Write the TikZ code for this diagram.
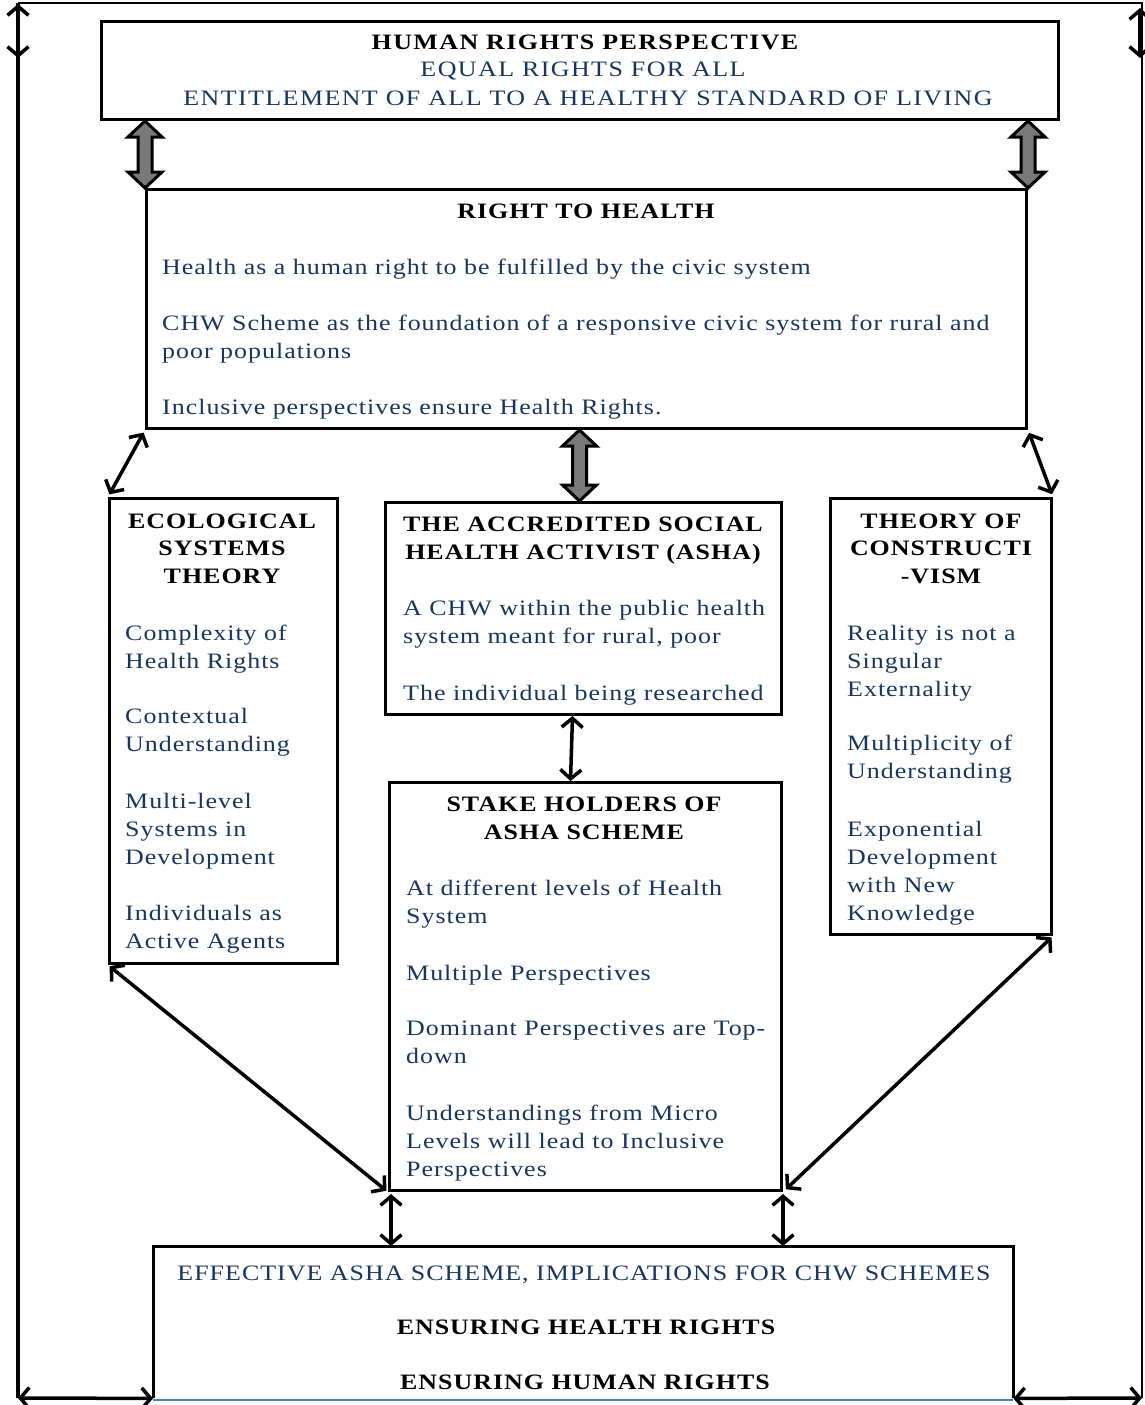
\documentclass[tikz,border=0pt]{standalone}
\usepackage{fontspec}
\setmainfont{Liberation Serif}[FakeStretch=1.18, LetterSpace=4.5]
\newfontfamily\widecaps{Liberation Serif}[FakeStretch=1.18, LetterSpace=6.5]
\usetikzlibrary{arrows.meta,calc}
\definecolor{navy}{RGB}{23,54,93}
\definecolor{edgeblue}{RGB}{79,129,189}

\tikzset{
  box/.style={draw=black, line width=3pt, anchor=north west, inner sep=0pt},
  % multi-line nodes are placed by the baseline of their last line
  ttl/.style={font=\fontsize{22}{27.5}\selectfont\bfseries, align=center, anchor=base, inner sep=0pt},
  itm/.style={font=\fontsize{22}{28}\selectfont, text=navy, align=left, anchor=base west, inner sep=0pt},
  ctr/.style={font=\fontsize{22}{28}\selectfont, text=navy, anchor=base, inner sep=0pt},
  link/.style={line width=3.5pt, {Straight Barb[length=9pt,width=21pt]}-{Straight Barb[length=9pt,width=21pt]}},
  fat/.style={draw=black, fill=gray!95!black, line width=3pt, line join=miter},
}

% vertical block arrow with two heads, from #1 (top) to #2 (bottom)
\newcommand\fatarrow[2]{%
  \path[fat] let \p1=(#1), \p2=(#2) in
    (\x1,\y1) -- (\x1+17pt,\y1-16pt) -- (\x1+7pt,\y1-16pt) --
    (\x1+7pt,\y2+16pt) -- (\x1+17pt,\y2+16pt) -- (\x1,\y2) --
    (\x1-17pt,\y2+16pt) -- (\x1-7pt,\y2+16pt) --
    (\x1-7pt,\y1-16pt) -- (\x1-17pt,\y1-16pt) -- cycle;}

\begin{document}
\begin{tikzpicture}[x=1pt,y=-1pt]
\useasboundingbox (0,0) rectangle (1145,1405);
\clip (0,0) rectangle (1145,1405);

% outer frame
\coordinate (ftl) at (18,3);
\coordinate (ftr) at (1142,3);
\coordinate (fbl) at (18,1398);
\coordinate (fbr) at (1142,1398);
\draw[line width=3.5pt] (fbl) -- (ftl);
\draw[line width=2.5pt] (ftl) -- (ftr) -- (fbr);

% boxes
\node[box, minimum width=957pt, minimum height=98pt] (hr) at (100,20) {};
\node[box, minimum width=880pt, minimum height=239pt] (rth) at (145,188) {};
\node[box, minimum width=228pt, minimum height=465pt] (eco) at (108,497) {};
\node[box, minimum width=396pt, minimum height=212pt] (asha) at (384,501) {};
\node[box, minimum width=392pt, minimum height=408pt] (stake) at (388,781) {};
\node[box, minimum width=221pt, minimum height=436pt] (con) at (829,497) {};
\node[anchor=north west, inner sep=0pt, minimum width=860pt, minimum height=152pt] (eff) at (153,1246) {};
\draw[line width=3pt] (eff.south west) -- (eff.north west) -- (eff.north east) -- (eff.south east);
\draw[edgeblue, line width=2pt] ($(eff.south west)+(0,2)$) -- ($(eff.south east)+(0,2)$);

% frame arrows
\coordinate (la) at (18,58);
\coordinate (ra) at (1140,58);
\draw[link] ($(ftl)+(0,1)$) -- (la);
\draw[link] (1140,8) -- (ra);
\draw[link] (fbl) -- (eff.south west);
\draw[link] (eff.south east) -- (fbr);

% block arrows
\fatarrow{hr.south -| rth.north west}{rth.north west}
\fatarrow{hr.south -| rth.north east}{rth.north east}
\fatarrow{$(rth.south)+(-7,0)$}{$(asha.north)+(-4,0)$}

% thin connectors
\draw[link, shorten <=3pt, shorten >=3pt] (rth.south west) -- (eco.north west);
\draw[link, shorten <=3pt, shorten >=3pt] (rth.south east) -- (con.north east);
\draw[link] ($(asha.south)+(-11,0)$) -- ($(stake.north)+(-15,0)$);
\draw[link, shorten <=2pt, shorten >=2pt] (eco.south west) -- (stake.south west);
\draw[link, shorten <=2pt, shorten >=4pt] (con.south east) -- (stake.south east);
\draw[link, shorten <=2pt] ($(stake.south west)+(3,0)$) -- ($(stake.south west |- eff.north)+(3,0)$);
\draw[link, shorten <=2pt] (stake.south east) -- (stake.south east |- eff.north);

% texts: human rights perspective
\node[ttl, font=\fontsize{22}{27.5}\selectfont\widecaps\bfseries] (hrT) at (585,49) {HUMAN RIGHTS PERSPECTIVE};
\node[ctr, font=\fontsize{22}{28}\selectfont\widecaps] (hrA) at (583,77) {EQUAL RIGHTS FOR ALL};
\node[ctr, font=\fontsize{22}{28}\selectfont\widecaps] (hrB) at (588,105) {ENTITLEMENT OF ALL TO A HEALTHY STANDARD OF LIVING};

% right to health
\node[ttl] (rthT) at (586,218) {RIGHT TO HEALTH};
\node[itm] (rth1) at (162,274) {Health as a human right to be fulfilled by the civic system};
\node[itm] (rth2) at (162,358) {CHW Scheme as the foundation of a responsive civic system for rural and\\poor populations};
\node[itm] (rth3) at (162,414) {Inclusive perspectives ensure Health Rights.};

% ecological systems theory
\node[ttl] (ecoT) at (222,583) {ECOLOGICAL\\SYSTEMS\\THEORY};
\node[itm] (eco1) at (125,668) {Complexity of\\Health Rights};
\node[itm] (eco2) at (125,751) {Contextual\\Understanding};
\node[itm] (eco3) at (125,864) {Multi-level\\Systems in\\Development};
\node[itm] (eco4) at (125,948) {Individuals as\\Active Agents};

% ASHA
\node[ttl] (ashaT) at (583,559) {THE ACCREDITED SOCIAL\\HEALTH ACTIVIST (ASHA)};
\node[itm] (asha1) at (403,643) {A CHW within the public health\\system meant for rural, poor};
\node[itm] (asha2) at (403,700) {The individual being researched};

% stakeholders
\node[ttl] (stakeT) at (584,839) {STAKE HOLDERS OF\\ASHA SCHEME};
\node[itm] (stake1) at (406,923) {At different levels of Health\\System};
\node[itm] (stake2) at (406,980) {Multiple Perspectives};
\node[itm] (stake3) at (406,1063) {Dominant Perspectives are Top-\\down};
\node[itm] (stake4) at (406,1176) {Understandings from Micro\\Levels will lead to Inclusive\\Perspectives};

% constructivism
\node[ttl] (conT) at (941,583) {THEORY OF\\CONSTRUCTI\\-VISM};
\node[itm] (con1) at (847,696) {Reality is not a\\Singular\\Externality};
\node[itm] (con2) at (847,778) {Multiplicity of\\Understanding};
\node[itm] (con3) at (847,920) {Exponential\\Development\\with New\\Knowledge};

% outcome
\node[ctr] (effA) at (584,1280) {EFFECTIVE ASHA SCHEME, IMPLICATIONS FOR CHW SCHEMES};
\node[ttl] (effB) at (586,1334) {ENSURING HEALTH RIGHTS};
\node[ttl] (effC) at (585,1389) {ENSURING HUMAN RIGHTS};
\end{tikzpicture}
\end{document}
